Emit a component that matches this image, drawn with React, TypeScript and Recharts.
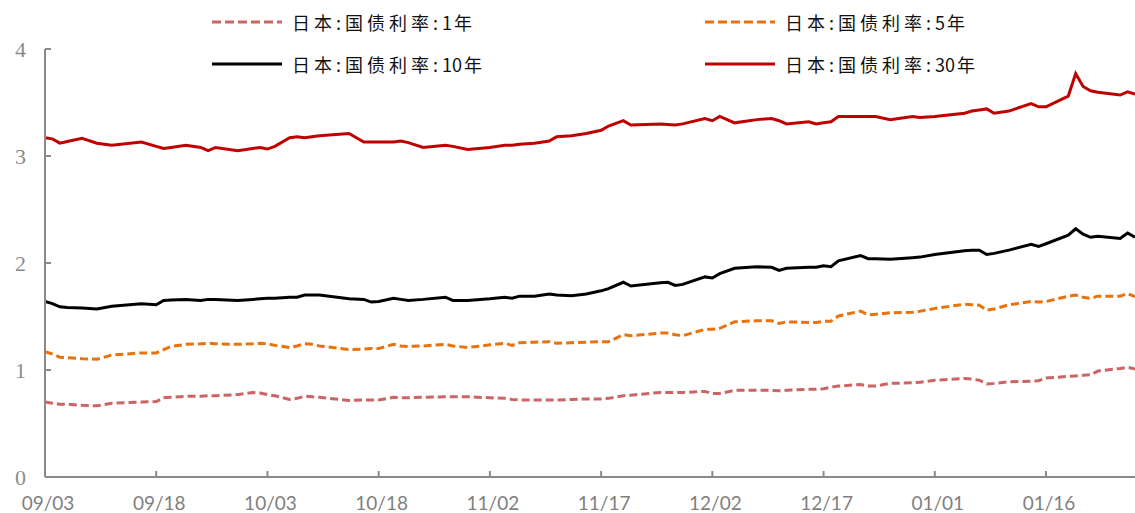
import React from 'react'
import { LineChart, Line, XAxis, YAxis } from 'recharts'

// days counted from 09/03
const days = [
  0, 1, 2, 3, 5, 7, 9, 13, 15, 16,
  17, 19, 21, 22, 23, 26, 28, 29, 30, 31,
  33, 34, 35, 36, 37, 41, 43, 44, 45, 47,
  48, 49, 51, 54, 55, 57, 60, 62, 63, 64,
  66, 68, 69, 71, 73, 75, 76, 78, 79, 83,
  84, 85, 86, 89, 90, 91, 93, 96, 98, 99,
  100, 103, 104, 105, 106, 107, 110, 111, 112, 114,
  117, 118, 120, 124, 125, 126, 127, 128, 130, 133,
  134, 135, 138, 139, 140, 141, 142, 145, 146, 147,
]

const rate1y = [
  0.70, 0.69, 0.68, 0.68, 0.67, 0.665, 0.69, 0.70, 0.705, 0.74,
  0.745, 0.755, 0.755, 0.76, 0.76, 0.77, 0.79, 0.785, 0.77, 0.76,
  0.725, 0.735, 0.755, 0.75, 0.745, 0.715, 0.72, 0.72, 0.72, 0.745,
  0.74, 0.74, 0.745, 0.75, 0.75, 0.75, 0.74, 0.735, 0.725, 0.72,
  0.72, 0.72, 0.72, 0.725, 0.73, 0.73, 0.735, 0.76, 0.765, 0.79,
  0.79, 0.79, 0.79, 0.80, 0.78, 0.78, 0.81, 0.81, 0.81, 0.805,
  0.81, 0.82, 0.82, 0.825, 0.84, 0.85, 0.865, 0.85, 0.85, 0.875,
  0.88, 0.885, 0.905, 0.92, 0.915, 0.905, 0.87, 0.875, 0.89, 0.895,
  0.90, 0.925, 0.94, 0.945, 0.95, 0.955, 0.99, 1.015, 1.025, 1.01,
]

const rate5y = [
  1.17, 1.15, 1.12, 1.115, 1.105, 1.10, 1.14, 1.16, 1.16, 1.19,
  1.22, 1.24, 1.245, 1.25, 1.245, 1.24, 1.245, 1.25, 1.245, 1.23,
  1.21, 1.225, 1.245, 1.24, 1.225, 1.19, 1.195, 1.20, 1.20, 1.24,
  1.225, 1.22, 1.225, 1.24, 1.225, 1.21, 1.235, 1.25, 1.23, 1.255,
  1.26, 1.265, 1.25, 1.255, 1.26, 1.265, 1.265, 1.33, 1.32, 1.345,
  1.345, 1.33, 1.32, 1.38, 1.38, 1.39, 1.45, 1.46, 1.46, 1.435,
  1.45, 1.445, 1.445, 1.455, 1.455, 1.505, 1.55, 1.515, 1.52, 1.535,
  1.54, 1.55, 1.575, 1.615, 1.61, 1.605, 1.56, 1.57, 1.61, 1.64,
  1.635, 1.64, 1.69, 1.70, 1.68, 1.67, 1.69, 1.69, 1.715, 1.685,
]

const rate10y = [
  1.64, 1.62, 1.59, 1.585, 1.58, 1.57, 1.595, 1.62, 1.61, 1.65,
  1.655, 1.66, 1.65, 1.66, 1.66, 1.65, 1.66, 1.665, 1.67, 1.67,
  1.68, 1.68, 1.70, 1.70, 1.70, 1.665, 1.66, 1.635, 1.64, 1.67,
  1.66, 1.65, 1.66, 1.68, 1.65, 1.65, 1.665, 1.68, 1.67, 1.69,
  1.69, 1.71, 1.70, 1.695, 1.71, 1.74, 1.76, 1.82, 1.785, 1.815,
  1.82, 1.79, 1.80, 1.87, 1.86, 1.90, 1.95, 1.965, 1.96, 1.93,
  1.95, 1.96, 1.96, 1.975, 1.965, 2.02, 2.07, 2.04, 2.04, 2.035,
  2.05, 2.055, 2.08, 2.115, 2.12, 2.12, 2.08, 2.09, 2.12, 2.175,
  2.155, 2.18, 2.26, 2.32, 2.27, 2.24, 2.25, 2.23, 2.28, 2.24,
]

const rate30y = [
  3.17, 3.16, 3.12, 3.135, 3.165, 3.12, 3.10, 3.13, 3.09, 3.07,
  3.08, 3.10, 3.08, 3.05, 3.08, 3.05, 3.07, 3.08, 3.065, 3.09,
  3.17, 3.18, 3.17, 3.18, 3.19, 3.21, 3.13, 3.13, 3.13, 3.13,
  3.14, 3.125, 3.08, 3.10, 3.09, 3.06, 3.08, 3.10, 3.10, 3.11,
  3.12, 3.14, 3.18, 3.19, 3.21, 3.24, 3.28, 3.33, 3.29, 3.30,
  3.295, 3.29, 3.30, 3.35, 3.33, 3.37, 3.31, 3.34, 3.35, 3.33,
  3.30, 3.32, 3.30, 3.31, 3.32, 3.37, 3.37, 3.37, 3.37, 3.34,
  3.37, 3.36, 3.37, 3.40, 3.42, 3.43, 3.44, 3.40, 3.42, 3.49,
  3.46, 3.46, 3.56, 3.77, 3.65, 3.61, 3.595, 3.57, 3.60, 3.58,
]

const tickDays = [0, 15, 30, 45, 60, 75, 90, 105, 120, 135]
const tickLabels = ['09/03', '09/18', '10/03', '10/18', '11/02', '11/17', '12/02', '12/17', '01/01', '01/16']
const yTicks = [0, 1, 2, 3, 4]

const seriesNames = ['日本:国债利率:1年', '日本:国债利率:5年', '日本:国债利率:10年', '日本:国债利率:30年']

const data = days.map((d, i) => ({
  day: d,
  r1: rate1y[i],
  r5: rate5y[i],
  r10: rate10y[i],
  r30: rate30y[i],
}))

const series = [
  { key: 'r1', name: seriesNames[0], color: '#CC6464', dash: '8 4' },
  { key: 'r5', name: seriesNames[1], color: '#E8720E', dash: '8 4' },
  { key: 'r10', name: seriesNames[2], color: '#000000', dash: undefined },
  { key: 'r30', name: seriesNames[3], color: '#C00000', dash: undefined },
]

// legend: two rows, two columns
const legendPos = [
  { left: 212, top: 22 },
  { left: 705, top: 22 },
  { left: 212, top: 64 },
  { left: 705, top: 64 },
]

const axisGrey = '#8a8a8a'

// spaced-out CJK text, digits kept together
function LegendText({ text }: { text: string }) {
  const parts = text.match(/\d+|[^\d]+/g) || []
  return (
    <span
      style={{
        marginLeft: 8,
        fontFamily: '"Noto Sans CJK SC"',
        fontSize: 18,
        color: '#111',
        lineHeight: '26px',
      }}
    >
      {parts.map((p, i) => (
        <span key={i} style={{ letterSpacing: /\d/.test(p) ? 0 : 4, marginRight: /\d/.test(p) ? 2 : 0 }}>
          {p}
        </span>
      ))}
    </span>
  )
}

export default function App() {
  return (
    <div style={{ position: 'absolute', left: 0, top: 0, width: 1135, height: 513, background: '#fff' }}>
      <LineChart width={1135} height={513} data={data} margin={{ top: 49, right: 0, bottom: 0, left: 0 }}>
        <XAxis
          dataKey="day"
          type="number"
          domain={[0, 147]}
          ticks={tickDays}
          tickFormatter={(v: number) => tickLabels[tickDays.indexOf(v)] ?? ''}
          height={36}
          stroke={axisGrey}
          strokeWidth={2}
          tickSize={-6}
          tickMargin={26}
          tick={{ fill: '#7f7f7f', fontSize: 19, fontFamily: 'Lato', dx: 3 }}
          interval={0}
          allowDataOverflow
        />
        <YAxis
          type="number"
          domain={[0, 4]}
          ticks={yTicks}
          width={45}
          stroke={axisGrey}
          strokeWidth={2}
          tickSize={-6}
          tickMargin={25}
          tick={{ fill: '#8c8c8c', fontSize: 22, fontFamily: 'Liberation Serif' }}
          interval={0}
        />
        {series.map((s) => (
          <Line
            key={s.key}
            dataKey={s.key}
            name={s.name}
            type="linear"
            stroke={s.color}
            strokeWidth={3}
            strokeDasharray={s.dash}
            dot={false}
            isAnimationActive={false}
          />
        ))}
      </LineChart>
      {series.map((s, i) => (
        <div
          key={s.key}
          style={{
            position: 'absolute',
            left: legendPos[i].left,
            top: legendPos[i].top - 13,
            height: 26,
            display: 'flex',
            alignItems: 'center',
            whiteSpace: 'nowrap',
          }}
        >
          <svg width={72} height={6} style={{ display: 'block' }}>
            <line x1={0} y1={3} x2={70} y2={3} stroke={s.color} strokeWidth={3} strokeDasharray={s.dash ? '9 4' : undefined} />
          </svg>
          <LegendText text={s.name} />
        </div>
      ))}
    </div>
  )
}
